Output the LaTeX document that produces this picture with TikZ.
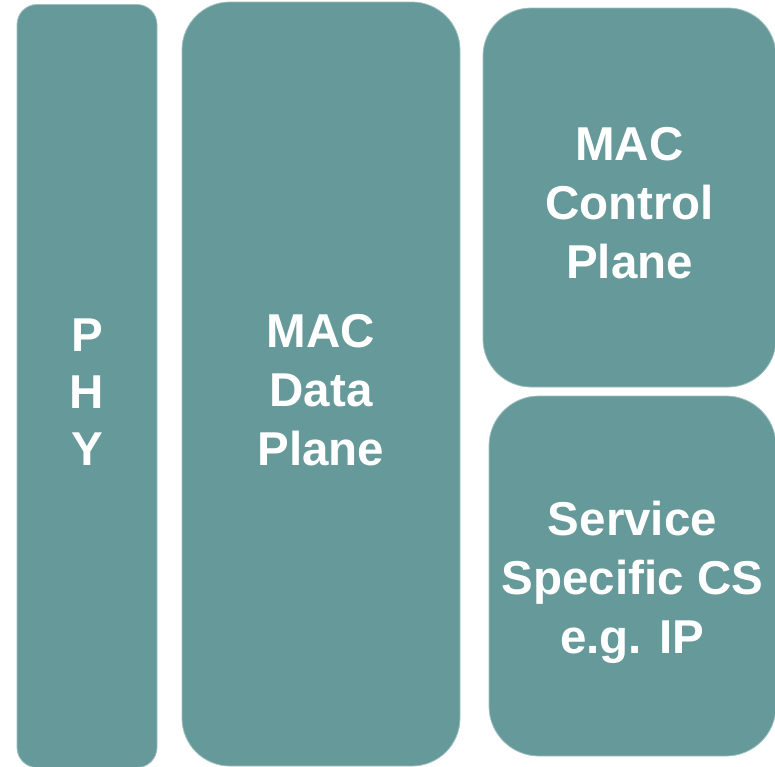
\documentclass[tikz,border=0pt]{standalone}
\usepackage{fontspec}
\setmainfont{Liberation Sans}
\definecolor{tealfill}{HTML}{669999}
\definecolor{tealedge}{HTML}{9FC0C0}
\begin{document}
\begin{tikzpicture}[x=1pt,y=-1pt,
  blk/.style={fill=tealfill, draw=tealedge, line width=0.8pt, inner sep=0pt},
  lbl/.style={inner sep=0pt, text=white, align=center, yshift=-6pt,
    font=\bfseries\fontsize{47.5}{59}\selectfont},
]
\useasboundingbox (0,0) rectangle (775,766);
\clip (0,0) rectangle (775,766);
\node[blk, rounded corners=20pt, minimum width=140pt, minimum height=763pt] (phy) at (87,386) {};
\node[blk, rounded corners=48pt, minimum width=278pt, minimum height=764pt] (data) at (321,384) {};
\node[blk, rounded corners=48pt, minimum width=293pt, minimum height=379pt] (ctrl) at (629.5,197.5) {};
\node[blk, rounded corners=50pt, minimum width=287pt, minimum height=360pt] (svc) at (632.5,576) {};
\node[lbl, font=\bfseries\fontsize{47.5}{57}\selectfont] (phyt) at (phy.center) {P\\H\\Y};
\node[lbl] (datat) at (data.center) {MAC\\Data\\Plane};
\node[lbl] (ctrlt) at (ctrl.center) {MAC\\Control\\Plane};
\node[lbl] (svct) at (svc.center) {Service\\Specific CS\\e.g. IP};
\end{tikzpicture}
\end{document}
